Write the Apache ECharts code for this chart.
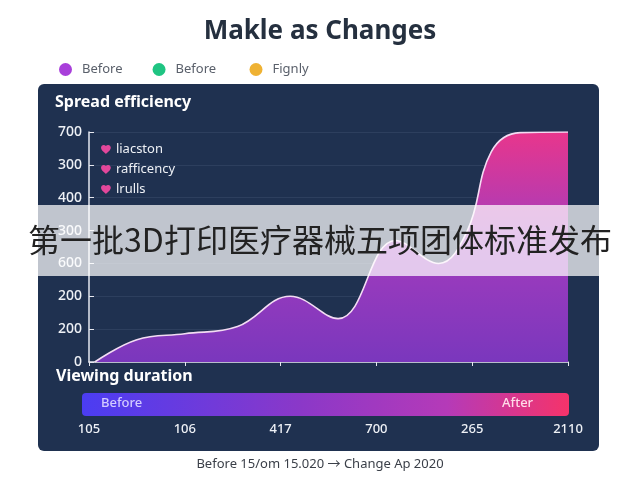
<!DOCTYPE html>
<html>
<head>
<meta charset="utf-8">
<title>Makle as Changes</title>
<script src="https://cdn.jsdelivr.net/npm/echarts@6/dist/echarts.min.js"></script>
<style>
  html, body { margin: 0; padding: 0; background: #ffffff; }
  #main { width: 640px; height: 480px; }
</style>
</head>
<body>
<div id="main"></div>
<script>
// x positions (axis units, ticks at 0..5) and values
const durationX = [0.06, 0.5, 1.0, 1.55, 2.1, 2.6, 3.2, 3.65, 3.95, 4.2, 4.5, 5.0]
const efficiencyY = [0, 68, 86, 108, 200, 132, 370, 300, 400, 640, 698, 700]

// tick labels as printed on the picture
const xLabels = ['105', '106', '417', '700', '265', '2110']
const yLabels = ['0', '200', '200', '600', '300', '400', '300', '700']

// legend names
const topLegend = ['Before', 'Before ', 'Fignly']
const topColors = ['#a83fda', '#1fc482', '#efb233']
const innerLegend = ['liacston', 'rafficency', 'lrulls']

const heart = 'path://M12 21.35l-1.45-1.32C5.4 15.36 2 12.28 2 8.5 2 5.42 4.42 3 7.5 3c1.74 0 3.41.81 4.5 2.09C13.09 3.81 14.76 3 16.5 3 19.58 3 22 5.42 22 8.5c0 3.78-3.4 6.86-8.55 11.54L12 21.35z'
const font = '"Noto Sans", "Noto Sans CJK SC", sans-serif'

const chart = echarts.init(document.getElementById('main'))

const series = [{
  name: 'Spread efficiency',
  type: 'line',
  smooth: 0.4,
  symbol: 'none',
  z: 3,
  data: durationX.map((x, i) => [x, efficiencyY[i]]),
  lineStyle: { color: '#f3dcf3', width: 1.6 },
  areaStyle: {
    opacity: 1,
    color: new echarts.graphic.LinearGradient(0, 0, 0, 1, [
      { offset: 0, color: '#e8368c' },
      { offset: 0.45, color: '#a53cbd' },
      { offset: 1, color: '#7a37bd' }
    ])
  }
}]

topLegend.forEach((name, i) => {
  series.push({ name: name, type: 'line', data: [], color: topColors[i] })
})
innerLegend.forEach(name => {
  series.push({ name: name, type: 'line', data: [], color: '#e2479b' })
})

chart.setOption({
  animation: false,
  title: {
    text: 'Makle as Changes',
    left: 'center',
    top: 14,
    textStyle: { fontFamily: font, fontSize: 26, fontWeight: 'bold', color: '#25303f' }
  },
  legend: [{
    data: topLegend,
    left: 54,
    top: 58,
    icon: 'circle',
    itemWidth: 13,
    itemHeight: 13,
    itemGap: 30,
    textStyle: { fontFamily: font, fontSize: 13, color: '#5a606b', padding: [0, 0, 0, 5] }
  }, {
    data: innerLegend,
    orient: 'vertical',
    left: 96,
    top: 138,
    icon: heart,
    itemWidth: 10,
    itemHeight: 9,
    itemGap: 7,
    textStyle: { fontFamily: font, fontSize: 13, color: '#eef1f6' }
  }],
  grid: { left: 89, right: 72, top: 132, bottom: 118 },
  xAxis: {
    type: 'value',
    min: 0,
    max: 5,
    interval: 1,
    axisLine: { show: true, lineStyle: { color: '#e6e8f0', width: 1.5 } },
    axisTick: { show: true, length: 4, lineStyle: { color: '#e6e8f0' } },
    splitLine: { show: false },
    axisLabel: {
      margin: 61,
      fontFamily: font,
      fontSize: 13,
      fontWeight: 500,
      color: '#eef1f6',
      formatter: v => xLabels[Math.round(v)]
    }
  },
  yAxis: {
    type: 'value',
    min: 0,
    max: 700,
    interval: 100,
    axisLine: { show: true, lineStyle: { color: '#e6e8f0', width: 1.5 } },
    axisTick: { show: true, inside: true, length: 5, lineStyle: { color: '#e6e8f0' } },
    splitLine: { show: true, lineStyle: { color: '#2d3f5e', width: 1 } },
    axisLabel: {
      margin: 7,
      fontFamily: font,
      fontSize: 14,
      fontWeight: 500,
      color: '#eef1f6',
      formatter: v => yLabels[Math.round(v / 100)]
    }
  },
  graphic: [
    {
      type: 'rect', z: -10,
      shape: { x: 38, y: 84, width: 561, height: 367, r: 6 },
      style: { fill: '#1f3150' }
    },
    {
      type: 'text', left: 55, top: 94,
      style: { text: 'Spread efficiency', fill: '#ffffff', font: 'bold 16px ' + font }
    },
    {
      type: 'text', left: 56, top: 368,
      style: { text: 'Viewing duration', fill: '#ffffff', font: 'bold 16px ' + font }
    },
    {
      type: 'rect',
      shape: { x: 82, y: 393, width: 487, height: 23, r: 4 },
      style: {
        fill: new echarts.graphic.LinearGradient(0, 0, 1, 0, [
          { offset: 0, color: '#4b3df2' },
          { offset: 0.45, color: '#8b38c8' },
          { offset: 0.75, color: '#b53ab8' },
          { offset: 1, color: '#f5336a' }
        ])
      }
    },
    {
      type: 'text', left: 101, top: 397,
      style: { text: 'Before', fill: '#d3cbff', font: '500 13px ' + font }
    },
    {
      type: 'text', left: 502, top: 397,
      style: { text: 'After', fill: '#ffdbe8', font: '500 13px ' + font }
    },
    {
      type: 'text', left: 'center', top: 458,
      style: { text: 'Before 15/om 15.020 \u2192 Change Ap 2020', fill: '#3a3f48', font: '13px ' + font }
    },
    {
      type: 'rect', z: 100,
      shape: { x: 0, y: 205, width: 640, height: 71 },
      style: { fill: 'rgba(255,255,255,0.72)' }
    },
    {
      type: 'text', z: 101, left: 'center', top: 224,
      style: { text: '第一批3D打印医疗器械五项团体标准发布', fill: '#222222', font: '32px "Noto Sans CJK SC", sans-serif' }
    }
  ],
  series: series
})
</script>
</body>
</html>
